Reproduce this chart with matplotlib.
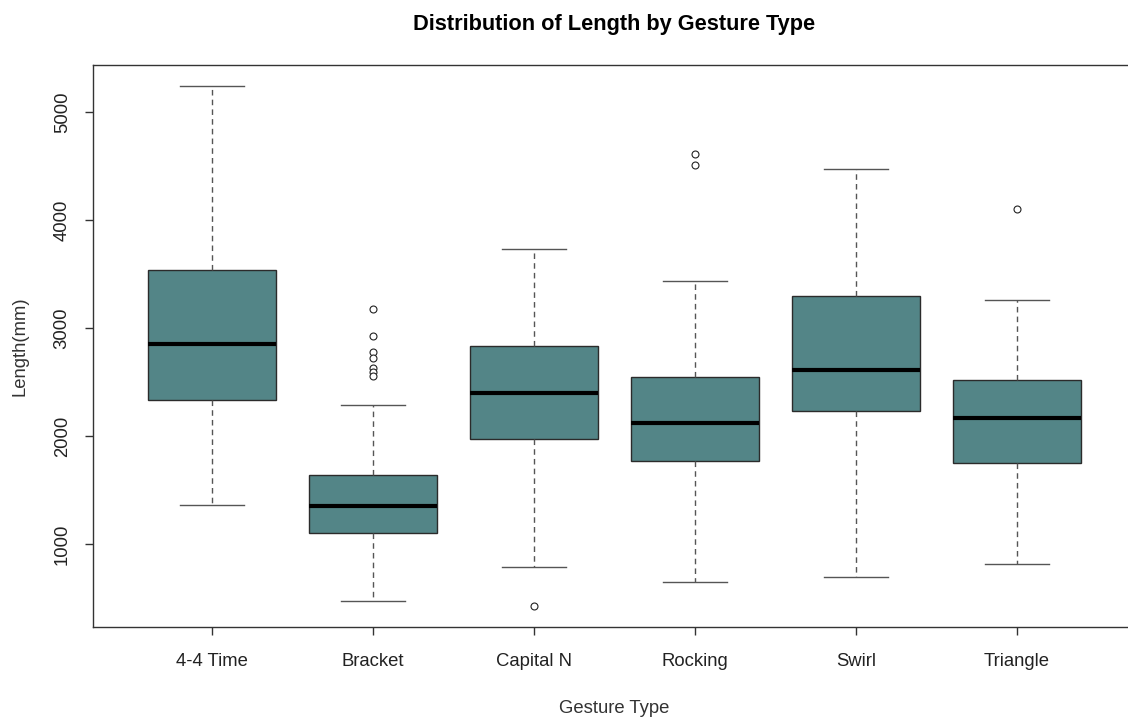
import matplotlib
matplotlib.use("Agg")
import matplotlib.pyplot as plt

plt.rcParams['font.family'] = ['Liberation Sans', 'DejaVu Sans']

# five-number summaries per gesture (mm) plus the outlying points
gestures = ['4-4 Time', 'Bracket', 'Capital N', 'Rocking', 'Swirl', 'Triangle']
whisker_low = [1363, 470, 786, 647, 693, 814]
q1 = [2330, 1102, 1967, 1772, 2228, 1753]
median = [2851, 1353, 2395, 2116, 2609, 2163]
q3 = [3540, 1642, 2833, 2544, 3298, 2516]
whisker_high = [5242, 2284, 3735, 3437, 4470, 3260]
outliers = [
    [],
    [3177, 2926, 2777, 2721, 2628, 2591, 2553],
    [423],
    [4609, 4507],
    [],
    [4098],
]

stats = []
for i, name in enumerate(gestures):
    stats.append(dict(label=name, whislo=whisker_low[i], q1=q1[i], med=median[i],
                      q3=q3[i], whishi=whisker_high[i], fliers=outliers[i]))

fig = plt.figure(figsize=(11.28, 7.17), dpi=100)
ax = fig.add_axes([0.0824, 0.1255, 0.9247, 0.7838])

ax.bxp(stats, positions=range(1, 7), widths=0.8, patch_artist=True,
       boxprops=dict(facecolor='#538587', edgecolor='#2b2b2b', linewidth=1),
       medianprops=dict(color='black', linewidth=3, solid_capstyle='butt'),
       whiskerprops=dict(color='#555555', linewidth=1, linestyle=(0, (4, 3))),
       capprops=dict(color='#555555', linewidth=1),
       capwidths=0.4,
       flierprops=dict(marker='o', markersize=5, markerfacecolor='white',
                       markeredgecolor='#222222', markeredgewidth=0.8))

ax.set_xlim(0.26, 6.74)
ax.set_ylim(230, 5435)
ax.set_yticks([1000, 2000, 3000, 4000, 5000])
ax.set_yticklabels(['1000', '2000', '3000', '4000', '5000'], rotation=90, va='center')

for s in ax.spines.values():
    s.set_color('#333333')
    s.set_linewidth(1)

ax.tick_params(axis='both', direction='out', length=6, width=1, colors='#333333',
               labelsize=13.3, labelcolor='#222222')
ax.tick_params(axis='x', pad=13)
ax.tick_params(axis='y', pad=10)

ax.set_xlabel('Gesture Type', fontsize=13.3, color='#333333', labelpad=21)
ax.set_ylabel('Length(mm)', fontsize=13.3, color='#333333', labelpad=18)
fig.text(0.5445, 0.966, 'Distribution of Length by Gesture Type', ha='center', va='center',
         fontsize=15.7, fontweight='bold', color='black')

fig.savefig('out.png', dpi=100)
